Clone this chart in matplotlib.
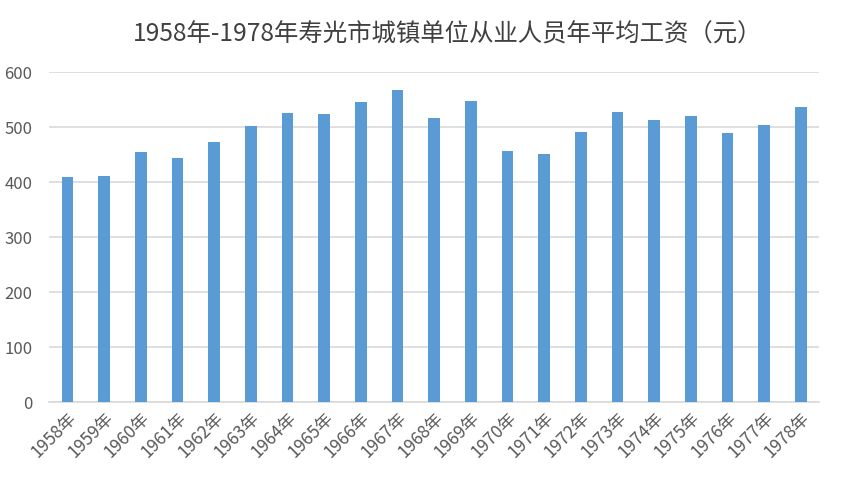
import matplotlib.pyplot as plt
import numpy as np

plt.rcParams['font.family'] = ['Noto Sans CJK SC', 'DejaVu Sans']

years = [f"{y}年" for y in range(1958, 1979)]
wages = [409, 411, 455, 444, 473, 502, 525, 524, 545, 567, 516,
         547, 456, 451, 491, 527, 513, 520, 489, 504, 536]

fig = plt.figure(figsize=(8.48, 4.91), dpi=100)
ax = fig.add_axes([0.058, 0.181, 0.908, 0.672])

x = np.arange(len(years))
ax.bar(x, wages, width=0.32, color='#5B9BD5', zorder=3)

ax.set_xlim(-0.5, len(years) - 0.5)
ax.set_ylim(0, 600)
ax.set_yticks(range(0, 601, 100))
ax.yaxis.grid(True, color='#D9D9D9', linewidth=1.2, zorder=0)
ax.set_axisbelow(True)

for s in ['top', 'right', 'left']:
    ax.spines[s].set_visible(False)
ax.spines['bottom'].set_color('#D9D9D9')
ax.spines['bottom'].set_linewidth(1.2)

ax.set_xticks(x)
ax.set_xticklabels(years, rotation=45, ha='right', rotation_mode='anchor',
                   fontsize=12.5, color='#595959')
ax.tick_params(axis='x', length=0, pad=5)
ax.tick_params(axis='y', length=0, pad=12, labelsize=12, labelcolor='#595959')

fig.text(0.528, 0.93, '1958年-1978年寿光市城镇单位从业人员年平均工资（元）',
         ha='center', va='center', fontsize=17.6, color='#404040')

plt.savefig('out.png', dpi=100)
plt.close()
